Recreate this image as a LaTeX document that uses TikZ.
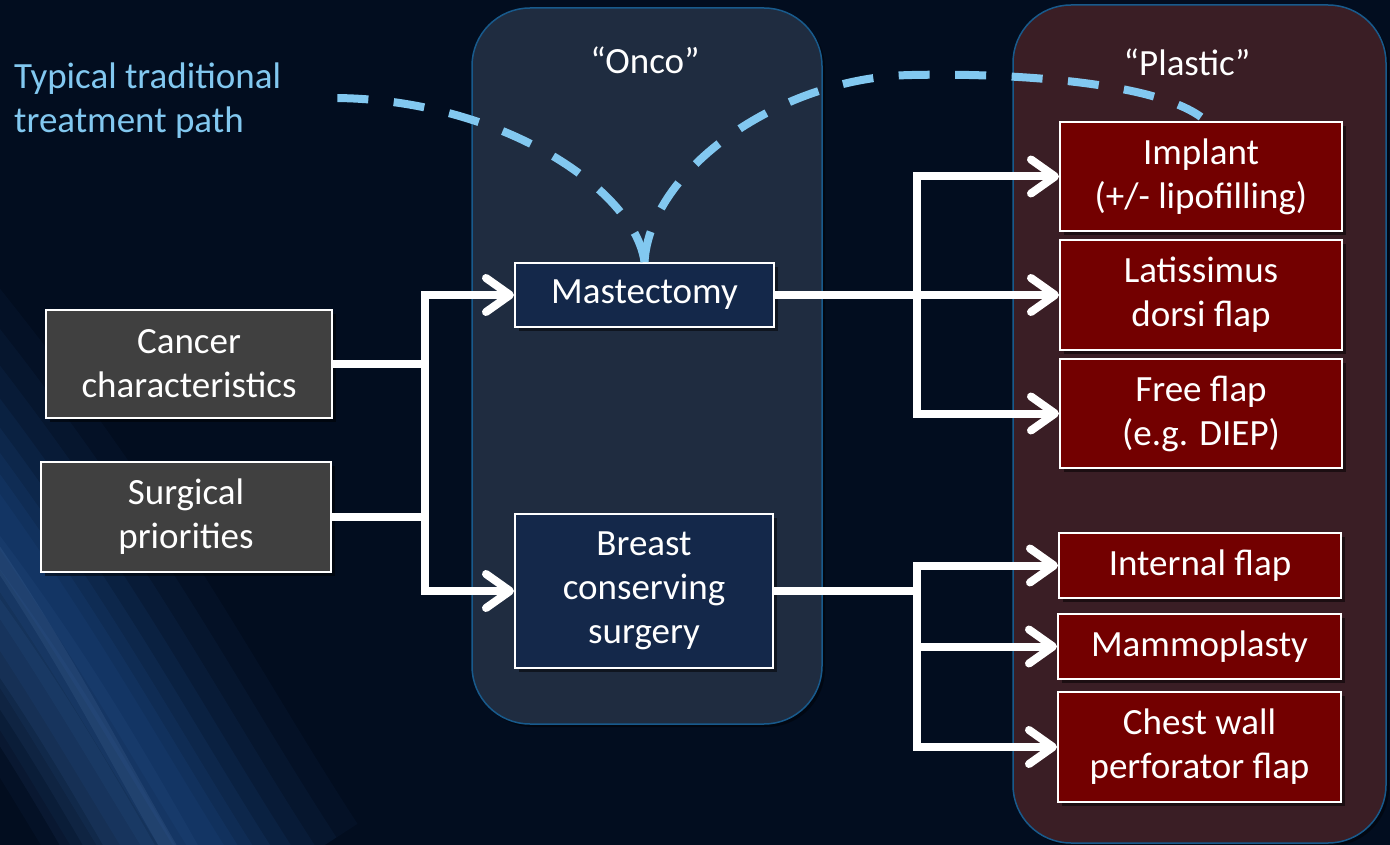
\documentclass[tikz,border=0pt]{standalone}
\usepackage{fontspec}
\setmainfont{Carlito}
\usetikzlibrary{arrows.meta,shadows}
\definecolor{bgc}{RGB}{2,13,31}
\definecolor{oncofill}{RGB}{31,44,64}
\definecolor{plasfill}{RGB}{58,30,37}
\definecolor{panelline}{RGB}{24,90,140}
\definecolor{boxgrey}{RGB}{64,64,64}
\definecolor{boxblue}{RGB}{20,40,74}
\definecolor{boxred}{RGB}{115,0,0}
\definecolor{lblue}{RGB}{130,200,240}
\definecolor{glow}{RGB}{45,105,185}
\newcommand{\bigf}{\fontsize{37}{44}\selectfont}
\begin{document}
\begin{tikzpicture}[x=1pt,y=-1pt,
  panel/.style={draw=panelline, line width=1.5pt, rounded corners=58pt,
    drop shadow={shadow xshift=3pt, shadow yshift=-3pt, opacity=0.4, fill=black}},
  box/.style={draw=white, line width=2pt, text=white, align=center,
    inner sep=0pt, font=\bigf,
    drop shadow={shadow xshift=4pt, shadow yshift=-4pt, opacity=0.5, fill=black}},
  greybox/.style={box, fill=boxgrey},
  bluebox/.style={box, fill=boxblue},
  redbox/.style={box, fill=boxred},
  conn/.style={draw=white, line width=8pt},
  arr/.style={-{Straight Barb[length=24pt,width=34pt,line cap=round,line join=round]}},
  dashpath/.style={draw=lblue, line width=8pt, dash pattern=on 31pt off 25.5pt},
  title/.style={text=white, font=\bigf, inner sep=0pt}
]
\useasboundingbox (0,0) rectangle (1390,845);
\fill[bgc] (0,0) rectangle (1390,845);
% background glow bottom-left
\begin{scope}
\clip (0,0) rectangle (1390,845);
\foreach \w/\o in {280/0.05, 230/0.06, 185/0.07, 145/0.08, 110/0.09, 80/0.09, 55/0.09, 32/0.08}{
  \draw[glow, line width=\w pt, opacity=\o] (-260,200) .. controls (30,520) and (110,700) .. (240,900);
}
\foreach \w/\o in {120/0.07, 80/0.08, 45/0.09}{
  \draw[glow!85!white, line width=\w pt, opacity=\o] (-120,480) .. controls (10,640) and (70,740) .. (160,900);
}
\draw[glow!60!white, line width=16pt, opacity=0.10] (-200,300) .. controls (40,580) and (90,720) .. (200,900);
\end{scope}

% panels
\draw[panel, fill=oncofill] (472,8) rectangle (822,724);
\draw[panel, fill=plasfill] (1013,5) rectangle (1386,843);
\node[title] (onco) at (645,60) {“Onco”};
\node[title] (plastic) at (1187,62) {“Plastic”};

% label
\node[anchor=west, align=left, text=lblue, font=\bigf, inner sep=0pt] (label) at (14,101)
  {Typical traditional\\treatment path};
\coordinate (pathstart) at (332,98);

% boxes
\node[greybox, minimum width=286pt, minimum height=108pt] (cancer) at (189,364) {Cancer\\characteristics};
\node[greybox, minimum width=290pt, minimum height=110pt] (surgical) at (186,517) {Surgical\\priorities};
\node[bluebox, minimum width=259pt, minimum height=64pt] (mast) at (644.5,295) {Mastectomy};
\node[bluebox, minimum width=258pt, minimum height=154pt] (bcs) at (644,591) {Breast\\conserving\\surgery};
\node[redbox, minimum width=282pt, minimum height=109pt] (implant) at (1201,176.5) {Implant\\(+/- lipofilling)};
\node[redbox, minimum width=282pt, minimum height=110pt] (lat) at (1201,295) {Latissimus\\dorsi flap};
\node[redbox, minimum width=282pt, minimum height=109pt] (free) at (1201,413.5) {Free flap\\(e.g. DIEP)};
\node[redbox, minimum width=282pt, minimum height=65pt] (internal) at (1200,565.5) {Internal flap};
\node[redbox, minimum width=283pt, minimum height=65pt] (mammo) at (1199.5,646.5) {Mammoplasty};
\node[redbox, minimum width=283pt, minimum height=110pt] (chest) at (1199.5,747) {Chest wall\\perforator flap};

% junctions
\coordinate (jl) at (425,364);
\coordinate (jl2) at (425,517);
\coordinate (jm) at (917,295);
\coordinate (jb) at (917,591);

% connectors
\draw[conn, arr] (cancer.east) -- (jl) |- (mast.west);
\draw[conn, arr] (jl) |- (bcs.west);
\draw[conn] (surgical.east) -- (jl2);
\draw[conn, arr] (mast.east) -- (lat.west);
\draw[conn, arr] (jm) |- (implant.west);
\draw[conn, arr] (jm) |- (free.west);
\draw[conn] (bcs.east) -- (jb);
\draw[conn, arr] (jb) |- (internal.west);
\draw[conn, arr] (jb) |- (mammo.west);
\draw[conn, arr] (jb) |- (chest.west);

% dashed traditional path
\draw[dashpath] (mast.north) .. controls (635,190) and (500,98) .. (pathstart);
\draw[dashpath] (mast.north) .. controls (650,170) and (780,77) .. (912,75)
   .. controls (1000,73) and (1150,80) .. ([yshift=4pt]implant.north);
\end{tikzpicture}
\end{document}
